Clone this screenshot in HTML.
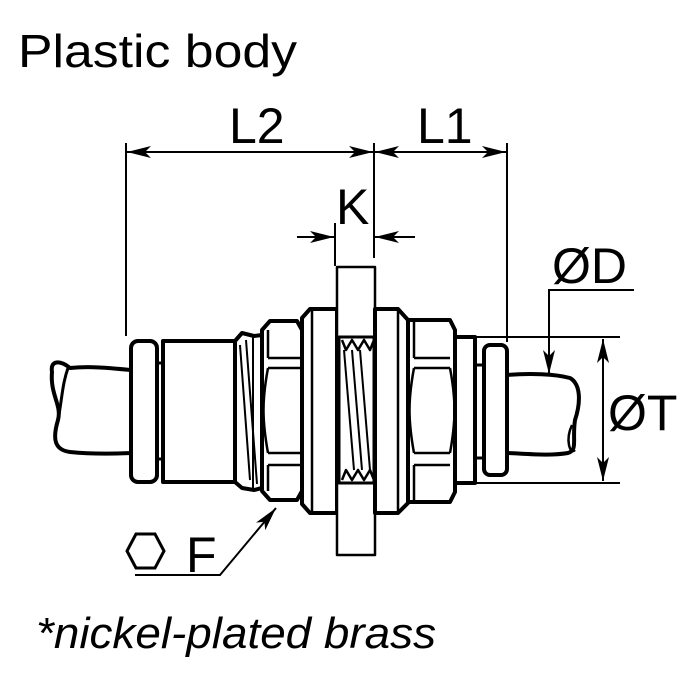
<!DOCTYPE html>
<html><head><style>body{margin:0;background:#fff}svg{display:block}</style></head>
<body>
<svg width="700" height="700" viewBox="0 0 700 700" xmlns="http://www.w3.org/2000/svg" font-family="Liberation Sans, sans-serif">
<defs>
<marker id="a" viewBox="0 0 24 12" refX="24" refY="6" markerWidth="24" markerHeight="12" markerUnits="userSpaceOnUse" orient="auto-start-reverse"><path d="M0,0 L24,6 L0,12 L6,6 Z" fill="#000"/></marker>
</defs>
<text x="18" y="67" font-size="46" textLength="279" lengthAdjust="spacingAndGlyphs">Plastic body</text>
<g stroke="#000" stroke-width="2" fill="none">
<line x1="126" y1="143" x2="126" y2="336"/>
<line x1="374" y1="143" x2="374" y2="258"/>
<line x1="507" y1="143" x2="507" y2="342"/>
<line x1="127" y1="152" x2="373" y2="152" marker-start="url(#a)" marker-end="url(#a)"/>
<line x1="375" y1="152" x2="506" y2="152" marker-start="url(#a)" marker-end="url(#a)"/>
<line x1="335" y1="223" x2="335" y2="266"/>
<line x1="297" y1="237" x2="334" y2="237" marker-end="url(#a)"/>
<line x1="415" y1="237" x2="375" y2="237" marker-end="url(#a)"/>
<line x1="375" y1="337" x2="620" y2="337"/>
<line x1="375" y1="483" x2="620" y2="483"/>
<line x1="603" y1="339" x2="603" y2="481" marker-start="url(#a)" marker-end="url(#a)"/>
<polyline points="634,290 549,290 549,374" marker-end="url(#a)"/>
<polyline points="135,575 220,575 276,508" marker-end="url(#a)"/>
</g>
<g stroke="#000" stroke-width="4" fill="#fff" stroke-linejoin="round">
<path d="M131,370 C110,368 90,366 70,368 C60,360 50,360 52,372 C50,395 62,405 58,420 C52,440 55,450 70,452 C90,454 110,454 131,453"/>
<path d="M68,368 C62,385 62,400 58,420" fill="none" stroke-width="3"/>
<rect x="131" y="341" width="26" height="141" rx="7"/>
<line x1="157" y1="363" x2="163" y2="363" stroke-width="3"/>
<line x1="157" y1="459" x2="163" y2="459" stroke-width="3"/>
<rect x="163" y="341" width="72" height="141"/>
<path d="M235,341 L242,333 L254,336 L262,335 L262,488 L254,490 L242,488 L235,482 Z"/>
<path d="M240,345 L250,480 M246,340 L257,484 M253,336 L253,490" fill="none" stroke-width="2"/>
<path d="M262,330 L270,321 L297,321 L302,330 L302,491 L297,500 L270,500 L262,491 Z"/>
<path d="M268,358 L300,358 M268,368 L300,368 M268,453 L300,453 M268,465 L300,465" fill="none" stroke-width="2.5"/>
<path d="M268,330 L268,358 M268,368 C262,400 262,420 268,453 M268,465 L268,491" fill="none" stroke-width="2.5"/>
<path d="M302,318 L310,309 L337,309 L337,513 L310,513 L302,504 Z"/>
<line x1="312" y1="309" x2="312" y2="513" stroke-width="2.5"/>
<rect x="337" y="267" width="38" height="288" stroke-width="2.5"/>
<rect x="339" y="337" width="35" height="146" stroke-width="3"/>
<path d="M342,340 L346,350 L352,340 L358,350 L364,340 L370,350 L374,340" fill="none" stroke-width="2.5"/>
<path d="M342,480 L346,470 L352,480 L358,470 L364,480 L370,470 L374,480" fill="none" stroke-width="2.5"/>
<path d="M344,350 L354,470 M352,350 L362,470 M360,350 L370,470" fill="none" stroke-width="2"/>
<path d="M375,309 L398,309 L408,320 L408,503 L398,513 L375,513 Z"/>
<line x1="398" y1="309" x2="398" y2="513" stroke-width="2.5"/>
<path d="M408,320 L450,320 L455,330 L455,492 L450,502 L408,502 Z"/>
<path d="M414,358 L450,358 M414,368 L450,368 M414,453 L450,453 M414,465 L450,465" fill="none" stroke-width="2.5"/>
<path d="M414,322 L414,358 M414,368 C408,400 408,420 414,453 M414,465 L414,500 M450,368 C456,400 456,420 450,453" fill="none" stroke-width="2.5"/>
<rect x="455" y="337" width="20" height="146"/>
<line x1="475" y1="365" x2="484" y2="365" stroke-width="3"/>
<line x1="475" y1="458" x2="484" y2="458" stroke-width="3"/>
<path d="M507,375 C530,373 555,374 570,378 C582,385 580,405 575,420 C572,440 578,450 568,453 C550,456 530,454 507,453"/>
<path d="M572,425 C565,440 570,455 575,450" fill="none" stroke-width="2.5"/>
<rect x="484" y="345" width="23" height="130" rx="6"/>
</g>
<polygon points="136,534 155,534 164,551 155,568 136,568 127,551" fill="none" stroke="#000" stroke-width="3"/>
<g font-size="50">
<text x="229" y="143">L2</text>
<text x="417" y="143">L1</text>
<text x="336" y="224">K</text>
<text x="552" y="283">ØD</text>
<text x="608" y="430">ØT</text>
<text x="186" y="572">F</text>
</g>
<text x="36" y="648" font-size="44" font-style="italic" textLength="400" lengthAdjust="spacingAndGlyphs">*nickel-plated brass</text>
</svg>
</body></html>
